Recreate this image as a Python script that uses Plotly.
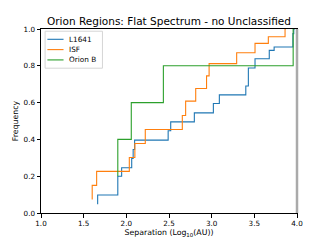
import plotly.graph_objects as go

# L1641 ECDF (sorted separations, cumulative fraction)
l1641_x = [1.664, 1.90, 1.90, 1.945, 2.063, 2.08, 2.097, 2.49, 2.52, 2.797, 3.02, 3.09,
           3.40, 3.43, 3.508, 3.675, 3.732, 3.952, 3.962, 3.975]
l1641_y = [0.047, 0.098, 0.149, 0.2, 0.246, 0.297, 0.345, 0.396, 0.447, 0.495, 0.544, 0.595,
           0.642, 0.69, 0.788, 0.838, 0.884, 0.902, 0.975, 1.0]

# ISF ECDF
isf_x = [1.60, 1.652, 2.035, 2.10, 2.222, 2.656, 2.695, 2.813, 2.94, 2.97, 3.293, 3.508,
         3.664, 3.86, 3.87]
isf_y = [0.074, 0.150, 0.226, 0.302, 0.378, 0.454, 0.53, 0.608, 0.677, 0.745, 0.812, 0.871,
         0.922, 0.958, 1.0]

# Orion B ECDF
orionb_x = [1.90, 2.058, 2.434, 3.955, 3.965]
orionb_y = [0.2, 0.4, 0.6, 0.8, 1.0]

series_names = ["L1641", "ISF", "Orion B"]
series_colors = ["#1f77b4", "#ff7f0e", "#2ca02c"]

x_ticks = [1.0, 1.5, 2.0, 2.5, 3.0, 3.5, 4.0]
y_ticks = [0.0, 0.2, 0.4, 0.6, 0.8, 1.0]

FONT = "DejaVu Sans"

fig = go.Figure()
for name, xs, ys, col in zip(series_names,
                             [l1641_x, isf_x, orionb_x],
                             [l1641_y, isf_y, orionb_y],
                             series_colors):
    fig.add_trace(go.Scatter(x=xs, y=ys, mode="lines", name=name, showlegend=False,
                             line=dict(color=col, width=1.1, shape="vh")))

axis_common = dict(showline=True, linecolor="black", linewidth=1, mirror=True,
                   ticks="outside", ticklen=3.5, tickwidth=1, tickcolor="black",
                   showgrid=False, zeroline=False, automargin=False,
                   tickfont=dict(family=FONT, size=7.2, color="black"))

fig.update_xaxes(range=[1.0, 4.0], tickvals=x_ticks,
                 ticktext=[f"{v:.1f}" for v in x_ticks],
                 title=dict(text="Separation (Log<sub>10</sub>(AU))",
                            font=dict(family=FONT, size=7.8, color="black"), standoff=1),
                 **axis_common)
fig.update_yaxes(range=[0.0, 1.0], tickvals=y_ticks,
                 ticktext=[f"{v:.1f}" for v in y_ticks],
                 title=dict(text="Frequency",
                            font=dict(family=FONT, size=7.8, color="black"), standoff=3),
                 **axis_common)

# light grey right spine
fig.add_shape(type="line", xref="x domain", yref="y domain", x0=1, x1=1, y0=0, y1=1,
              line=dict(color="#aaaaaa", width=2.5))

# legend box (drawn in paper coordinates, matplotlib style)
fig.add_shape(type="rect", xref="paper", yref="paper",
              x0=0.016, x1=0.24, y0=0.787, y1=0.988,
              line=dict(color="#d5d5d5", width=1), fillcolor="white", layer="above")
leg_rows = [0.944, 0.888, 0.832]
for name, col, yy in zip(series_names, series_colors, leg_rows):
    fig.add_shape(type="line", xref="paper", yref="paper", x0=0.025, x1=0.088, y0=yy, y1=yy,
                  line=dict(color=col, width=1.1), layer="above")
    fig.add_annotation(text=name, xref="paper", yref="paper", x=0.1, y=yy,
                       xanchor="left", yanchor="middle", showarrow=False,
                       font=dict(family=FONT, size=7.3, color="black"))

fig.update_layout(
    width=330, height=240,
    margin=dict(l=41, r=33, t=29, b=27),
    paper_bgcolor="white", plot_bgcolor="white",
    title=dict(text="Orion Regions: Flat Spectrum - no Unclassified",
               x=0.512, xanchor="center", yref="container", y=0.912, yanchor="middle",
               font=dict(family=FONT, size=10.5, color="black")),
    showlegend=False,
)

fig.write_html("out.html", config={"displayModeBar": False},
               post_script="document.body.style.margin='0';document.body.style.padding='0';")
